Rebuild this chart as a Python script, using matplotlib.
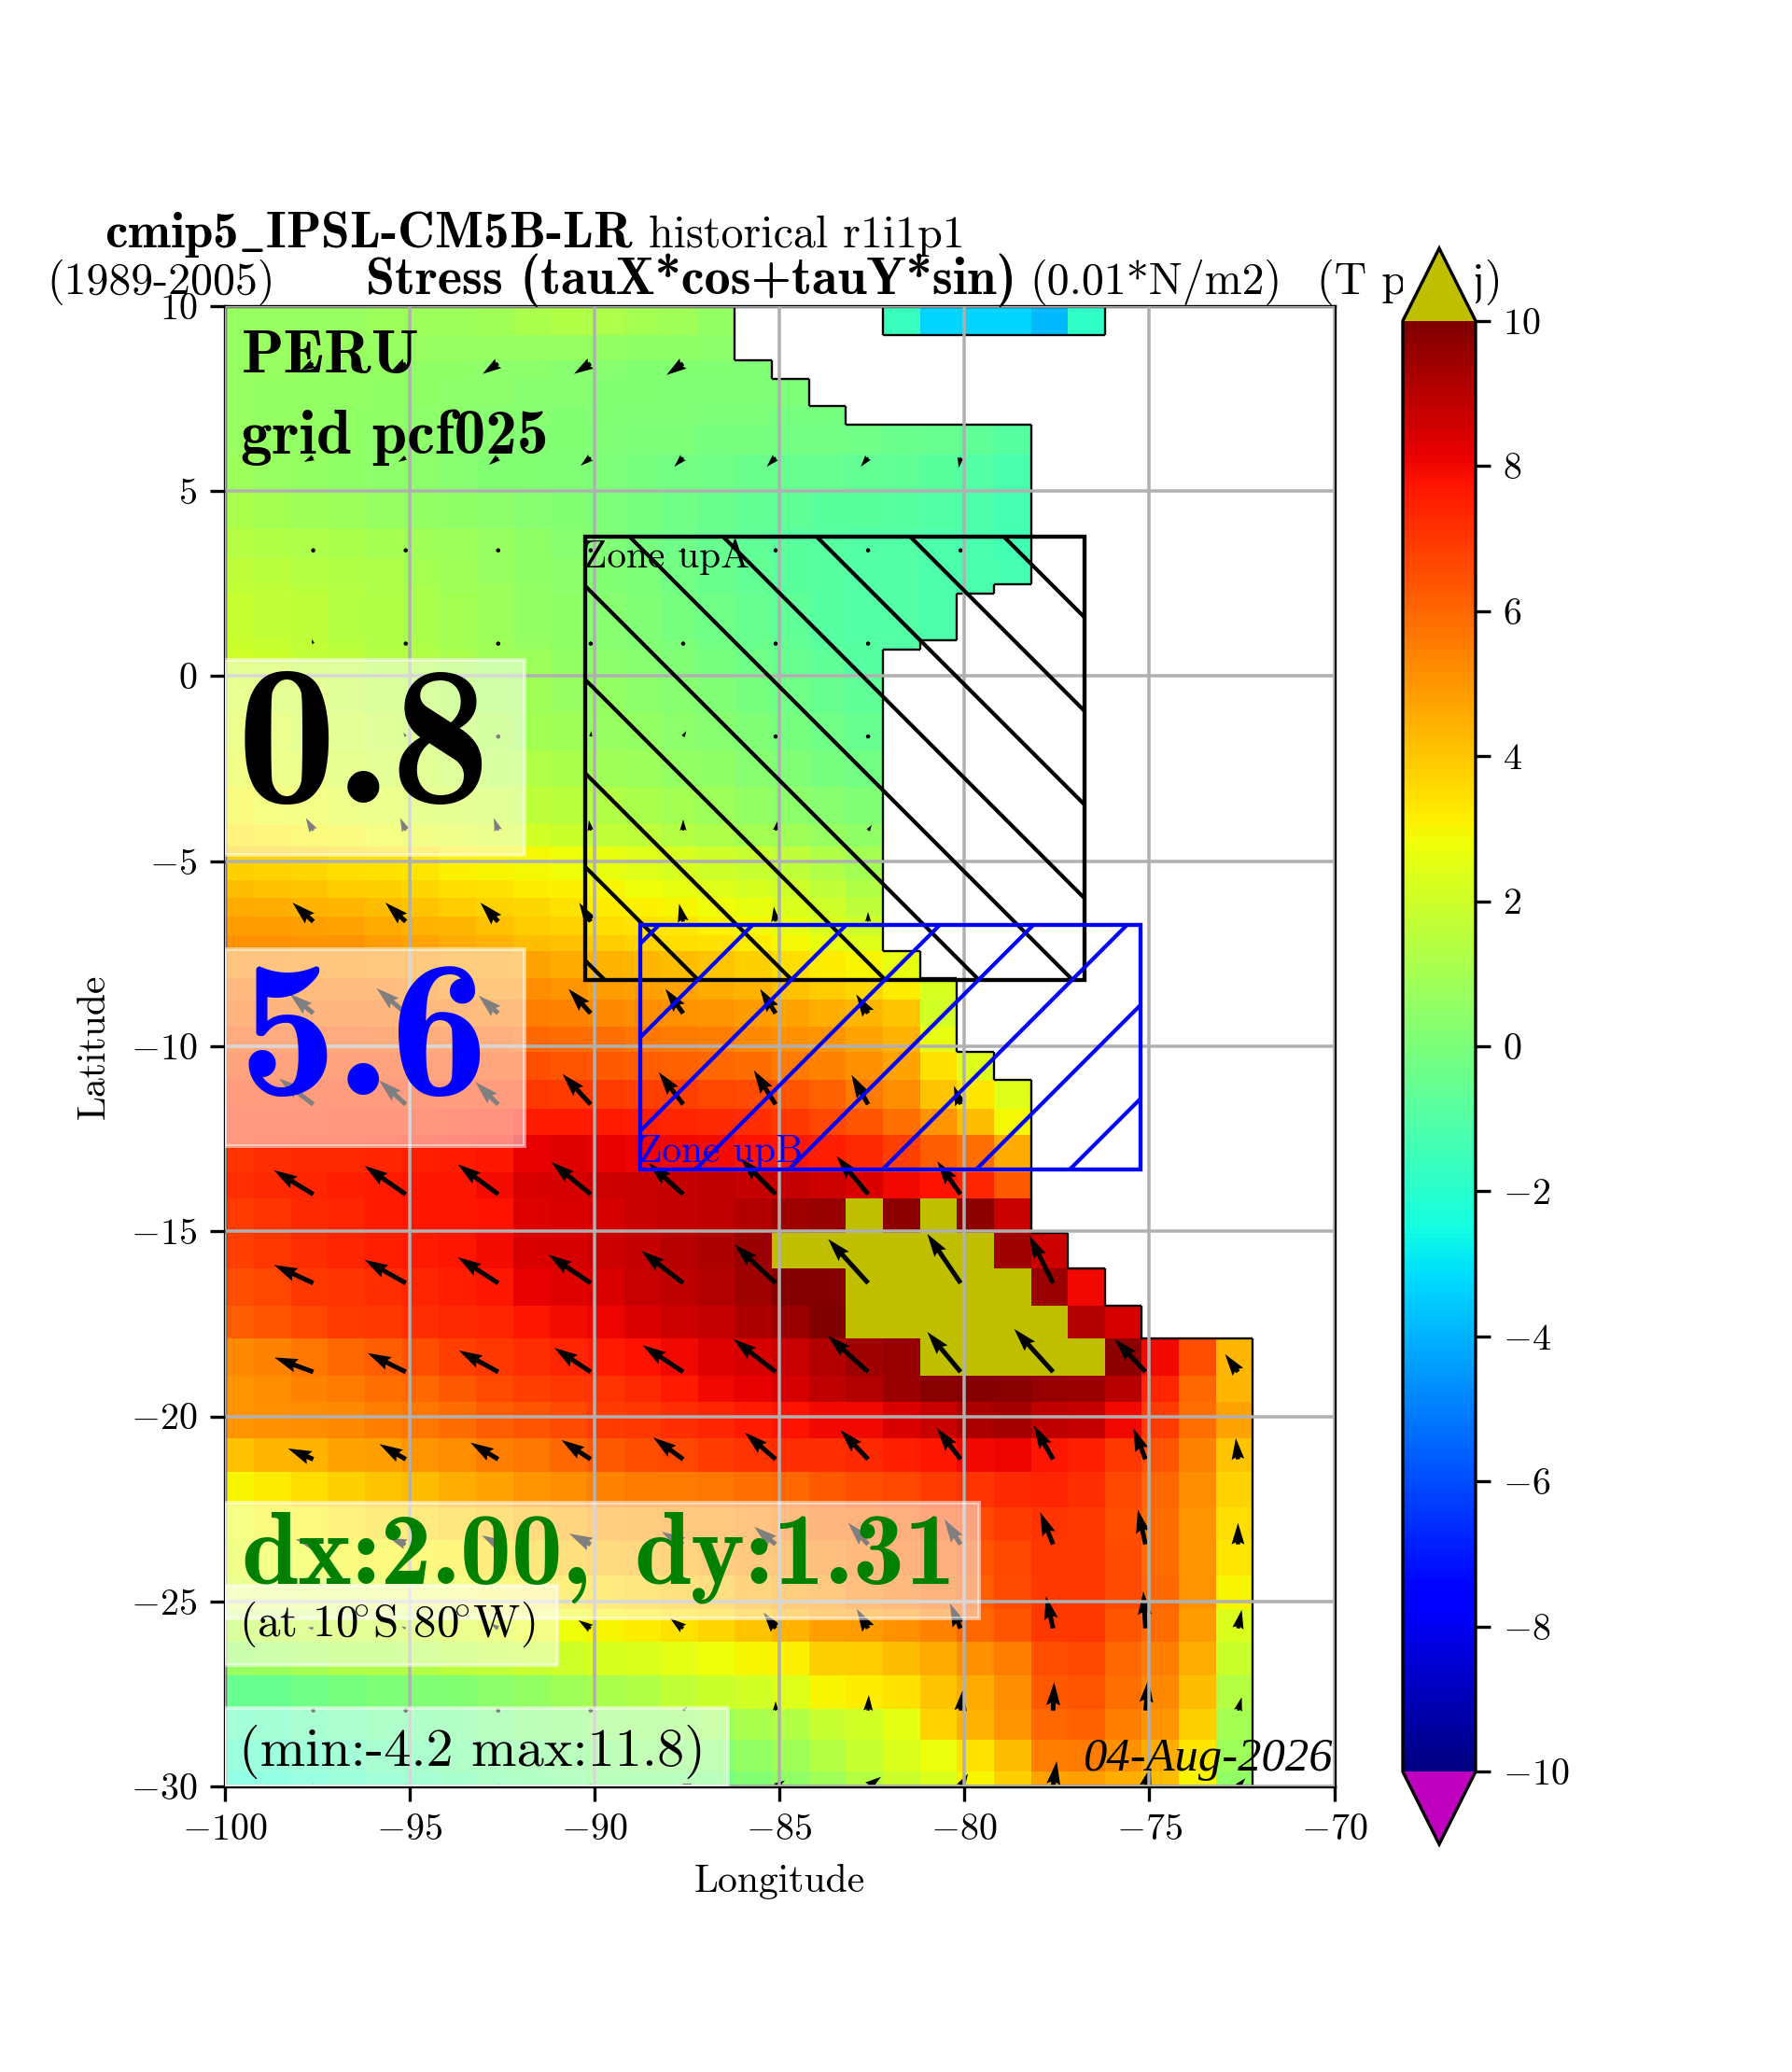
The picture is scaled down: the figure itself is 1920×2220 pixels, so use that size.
import numpy as np
import matplotlib
matplotlib.use('Agg')
import matplotlib.pyplot as plt
from matplotlib.collections import LineCollection
from matplotlib.patches import Rectangle

plt.rcParams['font.family'] = ['cmr10', 'DejaVu Sans']
plt.rcParams['mathtext.fontset'] = 'cm'
plt.rcParams['axes.formatter.use_mathtext'] = True

nan = float('nan')
o = 11.0  # above the colour scale

# grid cell edges
lon_edges = [-100, -99.2, -98.2, -97.2, -96.2, -95.2, -94.2, -93.2, -92.2, -91.2, -90.2, -89.2, -88.2, -87.2, -86.2,
             -85.2, -84.2, -83.2, -82.2, -81.2, -80.2, -79.2, -78.2, -77.2, -76.2, -75.2, -74.2, -73.2, -72.2]
lat_edges = [10, 9.23, 8.54, 8.04, 7.3, 6.79, 6, 5, 4, 3.2, 2.48, 2.22, 0.98, 0.73, 0, -1, -2, -3, -4, -4.6, -5.5, -6,
             -6.5, -7, -7.44, -8.17, -8.73, -9.47, -10.15, -10.9, -11.7, -12.4, -13.4, -14.1, -15.05, -16, -17, -17.9,
             -18.9, -19.6, -20.6, -21.5, -22.45, -23.35, -24.3, -25.2, -26.1, -27, -27.9, -28.75, -29.6, -30]

# wind stress, one row per latitude band, north to south (short rows stop at the coast)
stress_rows = [
    [.7, .7, .7, .7, .8, .8, .8, .9, 1.1, 1.3, 1.2, 1, .9, .6, nan, nan, nan, nan, -1.6, -3.3, -3.3, -3.3, -3.9, -1.8],
    [.7, .7, .7, .7, .7, .7, .7, .7, .7, .7, .6, .5, .5, .4],
    [.7, .7, .6, .6, .6, .5, .5, .4, .4, .3, .3, .2, .2, .2, .1],
    [.7, .6, .6, .6, .5, .5, .4, .4, .3, .3, .2, .2, .1, .1, .1, 0],
    [.7, .6, .6, .5, .5, .4, .4, .3, .3, .2, .2, .1, .1, 0, 0, -.1, -.1],
    [.7, .6, .6, .5, .4, .4, .3, .3, .2, .2, .1, 0, 0, -.1, -.1, -.2, -.2, -.3, -.4, -.5, -.7, -.9],
    [.8, .7, .6, .5, .4, .4, .3, .2, .2, .1, 0, -.1, -.2, -.3, -.4, -.5, -.5, -.6, -.7, -.8, -1, -1.2],
    [1.1, 1, .9, .8, .7, .6, .5, .4, .3, .2, 0, -.1, -.3, -.4, -.6, -.7, -.8, -.8, -.9, -1, -1.1, -1.3],
    [1.4, 1.3, 1.2, 1.1, 1, .9, .8, .7, .5, .3, .1, -.1, -.3, -.5, -.7, -.8, -.9, -1, -1, -1.1, -1.2, -1.4],
    [1.6, 1.5, 1.4, 1.3, 1.2, 1, .9, .7, .5, .4, .2, 0, -.2, -.4, -.6, -.8, -.9, -1, -1, -1.1, -1.2, -1.3],
    [1.7, 1.6, 1.5, 1.4, 1.2, 1.1, .9, .8, .6, .4, .2, 0, -.2, -.4, -.6, -.8, -.9, -1, -1, -1.1, -1.2],
    [1.8, 1.7, 1.6, 1.4, 1.3, 1.1, 1, .8, .6, .5, .3, .1, -.1, -.3, -.5, -.7, -.9, -1, -1, -1.1],
    [1.9, 1.8, 1.7, 1.5, 1.3, 1.2, 1, .9, .7, .5, .3, .2, 0, -.2, -.4, -.6, -.8, -.9, -1],
    [2, 1.9, 1.7, 1.6, 1.4, 1.3, 1.1, .9, .8, .6, .4, .3, .1, -.1, -.3, -.5, -.7, -.9],
    [2.1, 2, 1.9, 1.7, 1.5, 1.4, 1.2, 1, .9, .7, .6, .4, .3, .1, -.1, -.3, -.5, -.7],
    [2.3, 2.2, 2, 1.9, 1.7, 1.5, 1.4, 1.2, 1, .9, .7, .6, .4, .3, .1, -.1, -.3, -.5],
    [2.5, 2.4, 2.2, 2.1, 1.9, 1.8, 1.6, 1.4, 1.3, 1.1, .9, .8, .6, .5, .3, .1, -.1, -.2],
    [2.9, 2.7, 2.6, 2.4, 2.3, 2.1, 2, 1.8, 1.6, 1.5, 1.3, 1.1, 1, .8, .6, .4, .3, .1],
    [3.3, 3.2, 3, 2.9, 2.7, 2.5, 2.4, 2.2, 2.1, 1.9, 1.7, 1.6, 1.4, 1.2, 1, .9, .7, .5],
    [3.8, 3.7, 3.6, 3.5, 3.4, 3.3, 3.1, 3, 2.9, 2.8, 2.6, 2.4, 2.2, 2, 1.8, 1.6, 1.3, 1],
    [4.2, 4.1, 4, 3.9, 3.8, 3.6, 3.5, 3.4, 3.2, 3.1, 3, 2.8, 2.6, 2.4, 2.2, 2, 1.7, 1.3],
    [4.6, 4.5, 4.4, 4.3, 4.2, 4, 3.9, 3.7, 3.6, 3.4, 3.2, 3.1, 3, 2.8, 2.6, 2.3, 2, 1.6],
    [4.9, 4.9, 4.8, 4.7, 4.6, 4.4, 4.3, 4.1, 3.9, 3.7, 3.5, 3.4, 3.3, 3.1, 2.9, 2.6, 2.3, 2],
    [5.1, 5.1, 5, 5, 4.9, 4.7, 4.6, 4.4, 4.2, 4.1, 3.9, 3.7, 3.5, 3.4, 3.2, 2.9, 2.6, 2.4],
    [5.3, 5.3, 5.2, 5.2, 5.1, 5, 4.9, 4.9, 4.7, 4.6, 4.4, 4.3, 4.2, 4, 3.8, 3.5, 3.2, 3, 2.6],
    [5.7, 5.7, 5.6, 5.6, 5.5, 5.4, 5.3, 5.2, 5.2, 5, 4.9, 4.8, 4.7, 4.6, 4.4, 4.1, 3.9, 3.6, 3.2, 2.2],
    [6, 6, 5.9, 5.9, 5.8, 5.7, 5.7, 5.6, 5.5, 5.4, 5.3, 5.2, 5.1, 5, 4.9, 4.7, 4.5, 4.3, 4, 2.1],
    [6.4, 6.4, 6.4, 6.4, 6.3, 6.3, 6.2, 6.1, 6, 5.9, 5.8, 5.7, 5.6, 5.5, 5.3, 5.1, 5, 4.7, 4.4, 2.6],
    [6.7, 6.7, 6.7, 6.7, 6.7, 6.6, 6.5, 6.5, 6.5, 6.4, 6.3, 6.2, 6.1, 6, 5.9, 5.6, 5.4, 5.1, 4.7, 3.4, 2.4],
    [7, 7, 7, 7, 7, 7, 6.9, 7, 7, 6.9, 6.9, 6.8, 6.8, 6.7, 6.6, 6.4, 6.1, 5.6, 5.2, 4, 3.3, 2.4],
    [7.1, 7.1, 7.1, 7.2, 7.2, 7.2, 7.3, 7.4, 7.6, 7.6, 7.6, 7.5, 7.4, 7.3, 7.2, 7, 6.7, 6.4, 5.8, 5, 4.2, 2.9],
    [7.1, 7.2, 7.3, 7.3, 7.4, 7.5, 7.6, 7.7, 8.2, 8.3, 8.2, 8.1, 8, 7.9, 7.8, 7.7, 7.5, 7.3, 6.8, 6.2, 5.8, 4.6],
    [7.2, 7.3, 7.4, 7.5, 7.6, 7.7, 7.7, 7.9, 8.4, 8.5, 8.6, 8.7, 8.8, 8.9, 8.8, 8.8, 8.6, 8.4, 8, 7.8, 7.4, 6.3],
    [6.9, 7.1, 7.3, 7.4, 7.6, 7.7, 7.7, 7.8, 8.3, 8.4, 8.5, 8.7, 8.8, 8.9, 9.1, 9.4, 9.6, o, 9.7, o, 9.7, 8.7],
    [6.8, 7, 7.2, 7.4, 7.5, 7.6, 7.7, 7.9, 8.4, 8.5, 8.6, 8.8, 9, 9.2, 9.5, o, o, o, o, o, o, 9.4, 8.6],
    [6.5, 6.7, 7, 7.1, 7.2, 7.4, 7.5, 7.7, 8.2, 8.3, 8.4, 8.7, 8.9, 9.1, 9.4, 9.9, 9.9, o, o, o, o, o, 9.5, 8],
    [6.2, 6.4, 6.7, 6.9, 7, 7.2, 7.3, 7.4, 7.7, 7.9, 8.1, 8.4, 8.6, 8.8, 9.2, 9.5, 10, o, o, o, o, o, o, 9.1, 8.5],
    [5.3, 5.4, 5.7, 6, 6.2, 6.5, 6.8, 7, 7.2, 7.4, 7.6, 7.8, 8, 8.3, 8.5, 8.7, 9.1, 9.4, 9.6, o, o, o, o, o, 9.7, 8, 6.5, 4.3],
    [5, 5.2, 5.4, 5.6, 5.8, 6, 6.3, 6.6, 6.8, 7, 7.1, 7.3, 7.6, 8, 8.2, 8.5, 8.9, 9.1, 9.5, 9.8, 9.9, 9.8, 9.6, 9.5, 9, 7.4, 6, 4.3],
    [5, 5.1, 5.2, 5.3, 5.5, 5.7, 5.9, 6.2, 6.4, 6.6, 6.9, 7, 7.2, 7.4, 7.6, 7.8, 8, 8, 8.4, 8.7, 9.2, 9.3, 8.9, 8.8, 8, 6.9, 5.8, 4.7],
    [4.1, 4.3, 4.4, 4.7, 4.8, 5, 5.2, 5.5, 5.7, 6, 6.3, 6.5, 6.7, 6.9, 7.1, 7.2, 7.2, 7.3, 7.5, 7.7, 8, 8.1, 7.7, 7.5, 7, 6.4, 5.4, 4],
    [3, 3.2, 3.5, 3.8, 4, 4.2, 4.5, 4.7, 5, 5.2, 5.4, 5.6, 5.6, 5.7, 5.8, 6, 6.3, 6.5, 6.7, 6.9, 7.1, 7.3, 7.4, 7.2, 6.7, 6, 5.2, 3.7],
    [2.7, 2.9, 3.1, 3.3, 3.5, 3.6, 3.8, 4, 4.3, 4.6, 4.8, 4.9, 5, 5.1, 5.3, 5.5, 5.8, 6, 6.2, 6.5, 6.7, 6.9, 7.1, 7, 6.5, 5.9, 5, 3.5],
    [2.5, 2.6, 2.7, 2.9, 3, 3.1, 3.2, 3.5, 3.8, 4.1, 4.3, 4.4, 4.6, 4.8, 5, 5.2, 5.4, 5.7, 6, 6.2, 6.4, 6.7, 7, 7, 6.6, 5.9, 5, 3.3],
    [2.2, 2.2, 2.3, 2.4, 2.5, 2.6, 2.8, 3, 3.2, 3.4, 3.6, 3.8, 4, 4.2, 4.5, 4.8, 5, 5.4, 5.7, 6, 6.2, 6.6, 7, 7, 6.6, 6, 5, 3],
    [1.5, 1.6, 1.7, 1.8, 1.9, 2, 2.2, 2.4, 2.6, 2.8, 3, 3.2, 3.4, 3.6, 4, 4.4, 4.8, 4.9, 5.1, 5.4, 6, 6.4, 7, 7, 6.4, 5.9, 4.9, 2.3],
    [.7, .8, 1, 1.2, 1.2, 1.3, 1.5, 1.7, 1.8, 2, 2.2, 2.3, 2.5, 2.8, 3, 3.1, 3.8, 3.9, 4.2, 4.6, 5.1, 5.5, 6.5, 6.7, 6, 5.5, 4.5, 1.9],
    [-.5, -.5, -.3, -.1, 0, .1, .2, .4, .6, .9, 1.1, 1.3, 1.7, 1.9, 2.1, 2.4, 3, 3.2, 3.4, 4, 4.6, 5.2, 6.3, 6.4, 5.8, 5.3, 4.2, 1.4],
    [-1.3, -1.2, -1, -.8, -.7, -.6, -.4, -.2, 0, .2, .4, .5, .6, .8, 1.1, 1.3, 1.8, 2.1, 2.5, 3.7, 4.4, 5, 6, 6.1, 5.5, 5, 3.8, 1],
    [-1.6, -1.6, -1.4, -1.2, -1, -.8, -.6, -.4, -.3, -.1, .1, .3, .3, .3, .6, .9, 1.4, 1.8, 2.3, 2.7, 3.4, 4.2, 5.5, 5.6, 5.1, 4.6, 3.3, .8],
    [-2, -1.9, -1.7, -1.5, -1.3, -1.1, -.9, -.7, -.5, -.3, -.1, -.1, -.1, -.1, .2, .5, .9, 1.4, 1.9, 2.3, 3, 3.8, 4.7, 4.8, 4.5, 4.2, 3, .5],
]

# wind vectors: arrow tails, then components in degrees on the map
arrow_lons = [-97.6, -95.1, -92.6, -90.1, -87.6, -85.1, -82.6, -80.1, -77.6, -75.1, -72.6]
arrow_lats = [8.45, 5.91, 3.4, .88, -1.63, -4.17, -6.63, -9.11, -11.57, -14, -16.4, -18.8, -21.16, -23.46, -25.73, -27.95, -30]
u_rows = [
    [-.35, -.43, -.42, -.45, -.45],
    [-.25, -.2, -.25, -.27, -.24, -.24, -.2, -.05],
    [-.1, 0, 0, 0, 0, 0, .02, 0],
    [-.04, -.03, 0, 0, -.05, 0, -.1],
    [-.02, -.06, -.02, .02, .08, .05, .08],
    [-.2, -.15, -.12, -.05, 0, .05, .1],
    [-.56, -.55, -.48, -.31, -.11, -.05, 0],
    [-.64, -.79, -.53, -.6, -.48, -.42, -.32],
    [-.92, -.72, -.61, -.76, -.66, -.59, -.45, -.18],
    [-1.06, -1.11, -1.09, -1.06, -.93, -.95, -.85, -.63],
    [-1.06, -1.11, -1.09, -1.14, -1.13, -1.11, -1.08, -.9, -.64],
    [-1.05, -1.03, -1.06, -.98, -1.09, -1.14, -1.09, -.9, -1.05, -.83, -.35],
    [-.68, -.71, -.75, -.79, -.81, -.83, -.75, -.64, -.52, -.33, -.06],
    [-.48, -.44, -.44, -.58, -.58, -.58, -.54, -.44, -.35, -.21, 0],
    [-.15, -.12, -.2, -.33, -.35, -.33, -.31, -.29, -.19, -.06, .1],
    [-.08, .05, .1, -.05, .1, 0, .02, .06, .03, .08, .1],
    [.1, .1, .1, .1, .25, .25, .35, .2, .1, .14, .2],
]
v_rows = [
    [-.2, -.25, -.28, -.28, -.31],
    [-.12, -.12, -.2, -.22, -.25, -.25, -.25, -.28],
    [.05, -.02, -.02, -.01, -.05, -.08, -.1, -.1],
    [.12, .1, .02, .02, -.01, .05, .06],
    [.12, .12, .12, .15, .15, .03, 0],
    [.34, .34, .34, .28, .3, .25, .15],
    [.51, .51, .51, .51, .48, .4, .26],
    [.53, .68, .48, .66, .66, .66, .51],
    [.7, .65, .6, .82, .87, .92, .8, .5],
    [.65, .77, .81, .87, .84, .97, 1.03, .89],
    [.49, .63, .7, .77, .87, 1.04, 1.19, 1.33, 1.28],
    [.39, .51, .58, .65, .72, .89, .98, 1.08, 1.16, .89, .48],
    [.29, .41, .45, .52, .59, .72, .79, .84, .91, .84, .57],
    [.14, .17, .24, .29, .34, .48, .58, .68, .87, .94, .58],
    [.02, .05, .13, .22, .27, .43, .53, .68, .87, 1, .5],
    [.08, .08, .05, .08, .1, .25, .42, .56, .77, .85, .36],
    [.05, .05, .05, .05, .08, .16, .26, .34, .68, .53, .22],
]

colorbar_ticks = [-10, -8, -6, -4, -2, 0, 2, 4, 6, 8, 10]
xticks = [-100, -95, -90, -85, -80, -75, -70]
yticks = [10, 5, 0, -5, -10, -15, -20, -25, -30]

W, H = 1920.0, 2220.0


def pad(rows, n):
    return np.array([list(r) + [nan] * (n - len(r)) for r in rows], dtype=float)


def px(x, y):
    return x / W, 1 - y / H


stress = pad(stress_rows, 28)
u = pad(u_rows, 11)
v = pad(v_rows, 11)

fig = plt.figure(figsize=(8, 9.25), dpi=240)
ax = fig.add_axes([240.5 / W, 1 - 1914 / H, 1189 / W, 1586 / H])

cmap = plt.get_cmap('jet').copy()
cmap.set_over('y')
cmap.set_under('m')
mesh = ax.pcolormesh(lon_edges, lat_edges, np.ma.masked_invalid(stress), cmap=cmap, vmin=-10, vmax=10,
                     zorder=1, antialiased=False)

# thin outline where the sea stops
segs = []
for j in range(stress.shape[0]):
    for i in range(stress.shape[1]):
        if np.isnan(stress[j, i]):
            continue
        if i == 27 or np.isnan(stress[j, i + 1]):
            segs.append([(lon_edges[i + 1], lat_edges[j]), (lon_edges[i + 1], lat_edges[j + 1])])
        if i > 0 and np.isnan(stress[j, i - 1]):
            segs.append([(lon_edges[i], lat_edges[j]), (lon_edges[i], lat_edges[j + 1])])
        if j == stress.shape[0] - 1 or np.isnan(stress[j + 1, i]):
            segs.append([(lon_edges[i], lat_edges[j + 1]), (lon_edges[i + 1], lat_edges[j + 1])])
        if j > 0 and np.isnan(stress[j - 1, i]):
            segs.append([(lon_edges[i], lat_edges[j]), (lon_edges[i + 1], lat_edges[j])])
ax.add_collection(LineCollection(segs, colors='k', linewidths=0.7, zorder=1.5))

qx, qy = np.meshgrid(arrow_lons, arrow_lats)
ax.quiver(qx, qy, np.ma.masked_invalid(u), np.ma.masked_invalid(v), angles='xy', scale_units='xy', scale=1,
          pivot='tail', width=0.0042, color='k', zorder=2)

ax.set_xlim(-100, -70)
ax.set_ylim(-30, 10)
ax.set_xticks(xticks)
ax.set_yticks(yticks)
ax.grid(True, color='#b0b0b0', linewidth=1.05)
ax.set_axisbelow(False)
ax.tick_params(length=4.8, width=1, labelsize=12, pad=4)
for s in ax.spines.values():
    s.set_linewidth(1)
ax.set_xlabel('Longitude', fontsize=12.5, labelpad=5.5)
ax.set_ylabel('Latitude', fontsize=12.5, labelpad=6)

# zones with wide hatching
zone_a = Rectangle((-90.26, -8.2), 13.52, 11.96, fill=False, ec='k', lw=1.3, zorder=3)
zone_b = Rectangle((-88.77, -13.33), 13.53, 6.6, fill=False, ec='b', lw=1.3, zorder=3.1)
ax.add_patch(zone_a)
ax.add_patch(zone_b)
for k in range(-5, 7):
    c = -87.81 + 2.53 * k
    line, = ax.plot([-100, -60], [100 + c, 60 + c], color='k', lw=1.25, zorder=3)
    line.set_clip_path(zone_a)
for k in range(-1, 9):
    c = 81.53 - 2.53 * k
    line, = ax.plot([-100, -60], [-100 + c, -60 + c], color='b', lw=1.25, zorder=3.1)
    line.set_clip_path(zone_b)
ax.text(-90.29, 3.72, 'Zone upA', fontsize=12.4, color='k', va='top', ha='left', zorder=5)
ax.text(-88.8, -13.34, 'Zone upB', fontsize=12.4, color='b', va='bottom', ha='left', zorder=5)

# translucent boxes behind the annotations
boxes = [(-100, -4.84, -91.9, 0.44), (-100, -12.69, -91.9, -7.37), (-100, -25.45, -79.6, -22.33),
         (-100, -26.71, -91, -24.57), (-100, -30, -86.4, -27.87)]
for x0, y0, x1, y1 in boxes:
    ax.add_patch(Rectangle((x0, y0), x1 - x0, y1 - y0, fc='w', ec='w', alpha=0.5, lw=1.2, zorder=4))

bold = ['cmb10', 'cmr10', 'DejaVu Sans']
ax.text(-99.55, 8.22, 'PERU', fontsize=20, family=bold, va='baseline', zorder=5)
ax.text(-99.55, 6.02, 'grid pcf025', fontsize=20.2, family=bold, va='baseline', zorder=5)
ax.text(-99.68, -3.43, '0.8', fontsize=64, family=bold, va='baseline', zorder=5)
ax.text(-99.62, -11.3, '5.6', fontsize=63, family=bold, color='b', va='baseline', zorder=5)
ax.text(-99.55, -24.52, 'dx:2.00,', fontsize=33, family=bold, color='g', va='baseline', zorder=5)
ax.text(-88.93, -24.52, 'dy:1.31', fontsize=33, family=bold, color='g', va='baseline', zorder=5)
ax.text(-99.6, -25.95, r'(at 10$\!^{\circ}$S 80$\!^{\circ}$W)', fontsize=14.7, va='baseline', zorder=5)
ax.text(-99.6, -29.44, '(min:-4.2 max:11.8)', fontsize=17.5, va='baseline', zorder=5)
ax.text(-70.05, -29.56, '04-Aug-2026', fontsize=15.2, family='Liberation Serif', style='italic',
        ha='right', va='baseline', zorder=5)

# two title lines, placed piece by piece
tkw = dict(transform=fig.transFigure, va='baseline', ha='left', zorder=5)
ax.text(*px(112, 265), r'cmip5$\mathbf{\_}$IPSL-CM5B-LR', family=bold, fontsize=16.5, **tkw)
ax.text(*px(695, 265), 'historical r1i1p1', fontsize=14.4, **tkw)
ax.text(*px(50, 315), '(1989-2005)', fontsize=14.4, **tkw)
ax.text(*px(392, 315), 'Stress (tauX*cos+tauY*sin)', family=bold, fontsize=16.8, **tkw)
ax.text(*px(1103, 315), '(0.01*N/m2)', fontsize=14.4, **tkw)
ax.text(*px(1411, 315), '(T proiij)', fontsize=14.4, **tkw)
x0, y0 = px(1503, 343)
x1, y1 = px(1581, 250)
ax.add_patch(Rectangle((x0, y0), x1 - x0, y1 - y0, transform=fig.transFigure, fc='w', ec='none',
                       clip_on=False, zorder=6))

cax = fig.add_axes([1503 / W, 1 - 1976 / H, 78 / W, 1710 / H])
cb = fig.colorbar(mesh, cax=cax, extend='both', ticks=colorbar_ticks)
cb.ax.tick_params(length=4.8, width=1, labelsize=12, pad=4)
cb.outline.set_linewidth(1)

fig.savefig('out.png', dpi=240)
